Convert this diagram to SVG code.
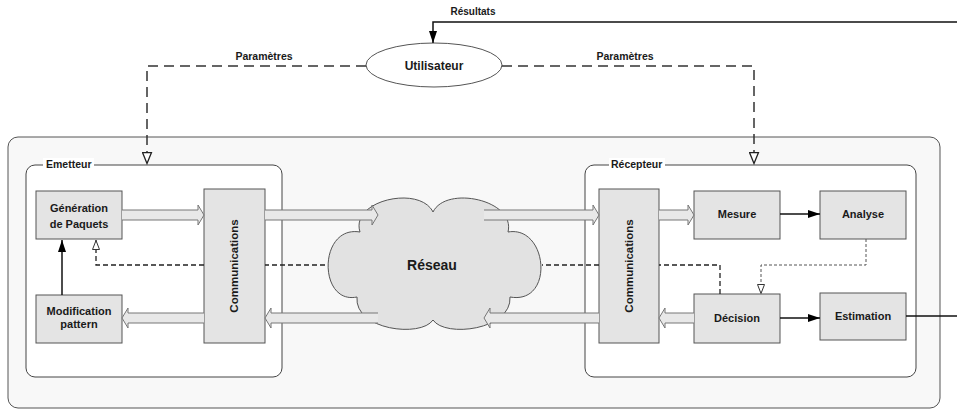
<svg xmlns="http://www.w3.org/2000/svg" width="957" height="410" viewBox="0 0 957 410">
<defs>
<style>
text{font-family:"Liberation Sans",Arial,Helvetica,sans-serif;font-weight:bold;fill:#1a1a1a;}
.t{font-size:11px;text-anchor:middle;}
.lbl{font-size:10.5px;}
.box{fill:#e4e4e4;stroke:#555;stroke-width:1;}
.cont{fill:#fff;stroke:#444;stroke-width:1;}
.outer{fill:#f8f8f8;stroke:#555;stroke-width:1;}
.fat{fill:#e8e8e8;stroke:#777;stroke-width:1;}
.solid{fill:none;stroke:#111;stroke-width:1.5;}
.param{fill:none;stroke:#333;stroke-width:1.5;stroke-dasharray:10 6;}
.dash{fill:none;stroke:#222;stroke-width:1.3;stroke-dasharray:5 3;}
.dot{fill:none;stroke:#555;stroke-width:1;stroke-dasharray:3 2;}
</style>
<marker id="fa" viewBox="0 0 12 8" refX="12" refY="4" markerWidth="12" markerHeight="8" markerUnits="userSpaceOnUse" orient="auto"><path d="M0,0 L12,4 L0,8 Z" fill="#000"/></marker>
<marker id="ha" viewBox="0 0 13 11" refX="12.5" refY="5.5" markerWidth="13" markerHeight="11" markerUnits="userSpaceOnUse" orient="auto"><path d="M1,1 L12,5.5 L1,10 Z" fill="#fff" stroke="#222" stroke-width="1.3"/></marker>
<marker id="hs" viewBox="0 0 11 9" refX="10.5" refY="4.5" markerWidth="11" markerHeight="9" markerUnits="userSpaceOnUse" orient="auto"><path d="M1,1 L10,4.5 L1,8 Z" fill="#fff" stroke="#333" stroke-width="1"/></marker>
</defs>

<g id="systeme">
<rect class="outer" x="8" y="137" width="932" height="271" rx="10"/>
</g>

<g id="emetteur">
<rect class="cont" x="26" y="165" width="256" height="212" rx="9"/>
<rect x="43" y="158" width="51" height="14" fill="#fff"/>
<text class="lbl" x="46" y="168">Emetteur</text>
</g>

<g id="recepteur">
<rect class="cont" x="585" y="165" width="331" height="212" rx="9"/>
<rect x="609" y="158" width="56" height="14" fill="#fff"/>
<text class="lbl" x="611" y="168">Récepteur</text>
</g>

<g id="utilisateur">
<ellipse cx="434" cy="65" rx="68" ry="22" fill="#fff" stroke="#555" stroke-width="1"/>
<text x="434" y="70" text-anchor="middle" font-size="12">Utilisateur</text>
</g>

<g id="generation">
<rect class="box" x="36" y="191" width="86" height="48"/>
<text class="t" x="79" y="212">Génération</text>
<text class="t" x="79" y="228">de Paquets</text>
</g>

<g id="modification">
<rect class="box" x="36" y="295" width="86" height="48"/>
<text class="t" x="79" y="315">Modification</text>
<text class="t" x="79" y="328">pattern</text>
</g>

<g id="comm-emetteur">
<rect class="box" x="204" y="189" width="61" height="154"/>
<text class="t" font-size="11.5" transform="translate(238,266) rotate(-90)" style="font-size:11.5px">Communications</text>
</g>

<g id="reseau">
<path d="M360 232 C350 200 420 185 433 212 C446 185 516 200 508 232 C548 225 555 305 510 297 C512 330 445 338 433 320 C421 338 354 330 357 297 C318 305 318 225 360 232 Z" fill="#e2e2e2" stroke="#555" stroke-width="1"/>
<text x="432" y="270" text-anchor="middle" font-size="14">Réseau</text>
</g>

<g id="comm-recepteur">
<rect class="box" x="599" y="189" width="60" height="154"/>
<text class="t" transform="translate(633,266) rotate(-90)" style="font-size:11.5px">Communications</text>
</g>

<g id="mesure">
<rect class="box" x="694" y="191" width="86" height="48"/>
<text class="t" x="737" y="218">Mesure</text>
</g>

<g id="analyse">
<rect class="box" x="820" y="191" width="86" height="48"/>
<text class="t" x="863" y="218">Analyse</text>
</g>

<g id="decision">
<rect class="box" x="694" y="294" width="86" height="49"/>
<text class="t" x="737" y="322">Décision</text>
</g>

<g id="estimation">
<rect class="box" x="820" y="293" width="86" height="47"/>
<text class="t" x="863" y="320">Estimation</text>
</g>

<g id="connecteurs">
<!-- Resultats -->
<path class="solid" d="M957 22 H433 V43" marker-end="url(#fa)"/>
<text x="473" y="15" text-anchor="middle" font-size="10">Résultats</text>
<!-- Parametres -->
<path class="param" d="M366 66 H147 V164" marker-end="url(#ha)"/>
<text x="264" y="60" text-anchor="middle" font-size="10.5">Paramètres</text>
<path class="param" d="M502 66 H754 V164" marker-end="url(#ha)"/>
<text x="625" y="60" text-anchor="middle" font-size="10.5">Paramètres</text>
<!-- fat arrows top -->
<path class="fat" d="M122 210 H198 V205 L204 215 L198 225 V220 H122"/>
<path class="fat" d="M265 210 H372 V205 L378 215 L372 225 V220 H265"/>
<path class="fat" d="M484 210 H593 V205 L599 215 L593 225 V220 H484"/>
<path class="fat" d="M659 210 H688 V205 L694 215 L688 225 V220 H659"/>
<!-- fat arrows bottom -->
<path class="fat" d="M694 313 H665 V308 L659 318 L665 328 V323 H694"/>
<path class="fat" d="M599 313 H490 V308 L484 318 L490 328 V323 H599"/>
<path class="fat" d="M378 313 H271 V308 L265 318 L271 328 V323 H378"/>
<path class="fat" d="M204 313 H128 V308 L122 318 L128 328 V323 H204"/>
<!-- solid -->
<path class="solid" d="M62 295 V240" marker-end="url(#fa)"/>
<path class="solid" d="M780 214 H820" marker-end="url(#fa)"/>
<path class="solid" d="M780 318 H820" marker-end="url(#fa)"/>
<path class="solid" d="M906 316 H957"/>
<!-- feedback dashed -->
<path class="dash" d="M720 294 V265 H659 M599 265 H542 M325 265 H265 M204 265 H96 V240" marker-end="url(#hs)"/>
<!-- analyse -> decision -->
<path class="dot" d="M866 239 V265 H761 V294" marker-end="url(#hs)"/>
</g>
</svg>
